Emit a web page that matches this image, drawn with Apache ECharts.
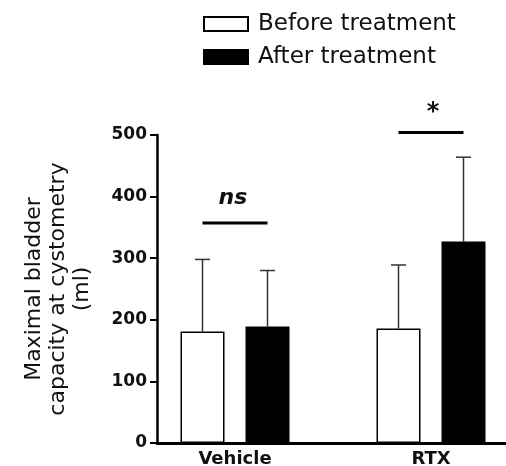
<!DOCTYPE html>
<html>
<head>
<meta charset="utf-8">
<script src="https://cdn.jsdelivr.net/npm/echarts@6/dist/echarts.min.js"></script>
<style>
html,body{margin:0;padding:0;background:#fff}
#main{width:506px;height:466px}
</style>
</head>
<body>
<div id="main"></div>
<script>
var groups = ['Vehicle', 'RTX']
var seriesNames = ['Before treatment', 'After treatment']
var beforeMean = [181, 186]
var afterMean = [189, 327]
var beforeSD = [117, 103]
var afterSD = [91, 137]
// significance bars: level of line, level of label, text
var sigLine = [357, 504]
var sigText = [397, 543]
var sigLabel = ['ns', '*']

var barW = 44
var barGapPx = 21
var off = (barW + barGapPx) / 2

var font = 'DejaVu Sans'

function errItem(sign) {
	return function (params, api) {
		var i = api.value(0)
		var top = api.coord([i, api.value(1) + api.value(2)])
		var base = api.coord([i, api.value(1)])
		var x = top[0] + sign * off
		return {
			type: 'group',
			children: [
				{type: 'line', shape: {x1: x, y1: base[1], x2: x, y2: top[1]}, style: {stroke: '#333', lineWidth: 1.5}},
				{type: 'line', shape: {x1: x - 7.5, y1: top[1], x2: x + 7.5, y2: top[1]}, style: {stroke: '#333', lineWidth: 1.5}}
			]
		}
	}
}

var mychart = echarts.init(document.getElementById('main'))
var option = {
	animation: false,
	legend: {
		data: seriesNames,
		orient: 'vertical',
		left: 203,
		top: 12,
		padding: 0,
		icon: 'rect',
		itemWidth: 44,
		itemHeight: 14,
		itemGap: 9,
		textStyle: {fontFamily: font, fontSize: 23, color: '#111', lineHeight: 24, padding: [0, 0, 0, 5]}
	},
	grid: [
		{left: 157, right: 0, top: 135, bottom: 23, outerBoundsMode: 'none'},
		{left: 137, width: 392, top: 135, bottom: 23, outerBoundsMode: 'none'}
	],
	xAxis: [
		{
			gridIndex: 0, type: 'category', data: groups,
			axisLine: {lineStyle: {color: '#000', width: 3}},
			axisTick: {show: false}, axisLabel: {show: false}
		},
		{
			gridIndex: 1, type: 'category', data: groups,
			axisLine: {show: false}, axisTick: {show: false},
			axisLabel: {margin: 7, fontFamily: font, fontWeight: 'bold', fontSize: 18, color: '#111'}
		}
	],
	yAxis: [
		{
			gridIndex: 0, type: 'value', min: 0, max: 500, interval: 100,
			axisLine: {show: true, lineStyle: {color: '#000', width: 2.5}},
			axisTick: {show: true, length: 7, lineStyle: {color: '#000', width: 2}},
			axisLabel: {margin: 10, fontFamily: font, fontWeight: 'bold', fontSize: 17, color: '#111'},
			splitLine: {show: false}
		},
		{
			gridIndex: 1, type: 'value', min: 0, max: 500, interval: 100, show: false
		}
	],
	graphic: [{
		type: 'text',
		x: 58,
		y: 289,
		rotation: Math.PI / 2,
		style: {
			text: 'Maximal bladder\ncapacity at cystometry\n(ml)',
			font: '22px "DejaVu Sans"',
			fill: '#111',
			textAlign: 'center',
			textVerticalAlign: 'middle',
			lineHeight: 24
		}
	}],
	series: [
		{
			name: seriesNames[0], type: 'bar', xAxisIndex: 1, yAxisIndex: 1,
			barWidth: barW, barGap: (barGapPx / barW * 100) + '%',
			itemStyle: {color: '#fff', borderColor: '#000', borderWidth: 1.5},
			data: beforeMean
		},
		{
			name: seriesNames[1], type: 'bar', xAxisIndex: 1, yAxisIndex: 1,
			barWidth: barW,
			itemStyle: {color: '#000', borderColor: '#000', borderWidth: 1.5},
			data: afterMean
		},
		{
			type: 'custom', xAxisIndex: 1, yAxisIndex: 1, z: 3,
			renderItem: errItem(-1),
			data: groups.map(function (g, i) { return [i, beforeMean[i], beforeSD[i]] })
		},
		{
			type: 'custom', xAxisIndex: 1, yAxisIndex: 1, z: 3,
			renderItem: errItem(1),
			data: groups.map(function (g, i) { return [i, afterMean[i], afterSD[i]] })
		},
		{
			type: 'custom', xAxisIndex: 1, yAxisIndex: 1, clip: false, z: 4,
			renderItem: function (params, api) {
				var i = api.value(0)
				var p = api.coord([i, api.value(1)])
				var t = api.coord([i, api.value(2)])
				var lab = sigLabel[params.dataIndex]
				var star = lab == '*'
				return {
					type: 'group',
					children: [
						{type: 'line', shape: {x1: p[0] - off, y1: p[1], x2: p[0] + off, y2: p[1]}, style: {stroke: '#000', lineWidth: 3}},
						{type: 'text', x: t[0] + (star ? 2 : -2), y: t[1] + (star ? 4 : 0), style: {
							text: lab, fill: '#111', textAlign: 'center', textVerticalAlign: 'middle',
							font: (star ? 'bold 24px ' : 'italic bold 22px ') + '"DejaVu Sans"'
						}}
					]
				}
			},
			data: groups.map(function (g, i) { return [i, sigLine[i], sigText[i]] })
		}
	]
}
mychart.setOption(option)
</script>
</body>
</html>
